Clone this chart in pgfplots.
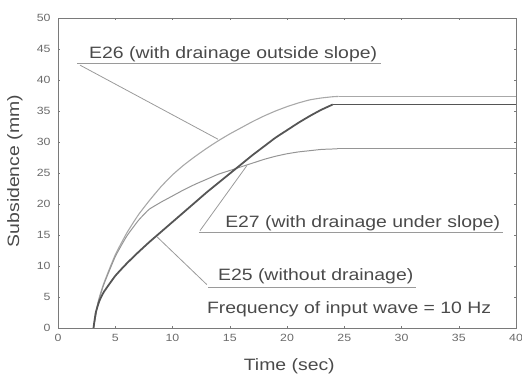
\documentclass[border=0pt]{standalone}
\usepackage{pgfplots}
\pgfplotsset{compat=1.18}
\usepackage{fontspec}
\setmainfont{Liberation Sans}[FakeStretch=1.18]
\definecolor{txt}{HTML}{4A4A4A}
\definecolor{ticklab}{HTML}{6A6A6A}
\definecolor{axisgray}{HTML}{7A7A7A}
\definecolor{cE26}{HTML}{A8A8A8}
\definecolor{cE27}{HTML}{959595}
\definecolor{cE25}{HTML}{555555}
\definecolor{leader}{HTML}{9A9A9A}
\begin{document}
\begin{tikzpicture}
\useasboundingbox (0,0) rectangle (522bp,381bp);
\begin{axis}[
  at={(58bp,53bp)}, anchor=south west,
  scale only axis, width=458bp, height=310bp,
  xmin=0, xmax=40, ymin=0, ymax=50,
  xtick={0,5,...,40}, ytick={0,5,...,50},
  tick align=inside, major tick length=2bp,
  axis line style={draw=axisgray, line width=0.6pt},
  tick style={draw=axisgray, line width=0.5pt},
  ticklabel style={font=\fontsize{10.5}{12}\selectfont, text=ticklab},
  /pgf/number format/assume math mode=true,
  xticklabel style={yshift=-3bp},
  yticklabel style={xshift=-4bp},
  clip=false,
]
% E26 (with drainage outside slope)
\addplot[cE26, line width=1.1pt, smooth, tension=0.3] coordinates {
(3.1,0)(3.5,4.2)(4,7.2)(5,11.8)(6,15.3)(7,18.2)(8,20.6)(9,22.8)(10,24.7)(11,26.3)
(12,27.7)(13,29)(14,30.2)(15,31.3)(16,32.3)(17,33.3)(18,34.2)(19,35)(20,35.7)
(21,36.3)(22,36.8)(23,37.1)(24,37.3)(24.5,37.35)};
\addplot[cE26, line width=1.0pt] coordinates {(24.5,37.35)(40,37.35)};
% E27 (with drainage under slope)
\addplot[cE27, line width=1.0pt, smooth, tension=0.3] coordinates {
(3.1,0)(3.5,4)(4,7)(5,11.5)(6,14.8)(7,17.3)(7.6,18.5)(8,19.2)(9,20.3)(10,21.3)
(11,22.3)(12,23.2)(13,24)(14,24.8)(15,25.4)(16,26)(17,26.6)(18,27.2)(19,27.7)
(20,28.1)(21,28.4)(22,28.6)(23,28.8)(24.4,28.9)};
\addplot[cE27, line width=0.9pt] coordinates {(24.4,28.9)(40,28.9)};
% E25 (without drainage)
\addplot[cE25, line width=1.8pt, smooth, tension=0.3] coordinates {
(3.1,0)(3.3,2.5)(3.6,4.3)(4,5.8)(5,8.4)(6,10.4)(7,12.2)(8,13.9)(9,15.5)(10,17.1)
(11,18.7)(12,20.3)(13,21.9)(14,23.4)(15,24.9)(16,26.4)(17,27.9)(18,29.3)(19,30.7)
(20,31.9)(21,33.1)(22,34.2)(23,35.2)(24,36.05)};
\addplot[cE25, line width=1.8pt] coordinates {(24,36.05)(40,36.05)};

% annotations
\begin{scope}[every node/.style={font=\fontsize{16.5}{18}\selectfont, text=txt, inner sep=0pt}]
\node[anchor=base west] at (axis cs:2.71,43.5) {E26 (with drainage outside slope)};
\draw[leader, line width=0.6pt] (axis cs:1.66,42.74) -- (axis cs:28.2,42.74);
\draw[leader, line width=0.8pt] (axis cs:1.92,42.4) -- (axis cs:13.97,30.45);

\node[anchor=base west] at (axis cs:14.59,16.24) {E27 (with drainage under slope)};
\draw[leader, line width=0.6pt] (axis cs:12.31,15.48) -- (axis cs:38.86,15.48);
\draw[leader, line width=0.8pt] (axis cs:12.4,15.7) -- (axis cs:16.5,26.2);

\node[anchor=base west] at (axis cs:13.97,7.63) {E25 (without drainage)};
\draw[leader, line width=0.6pt] (axis cs:13.1,6.61) -- (axis cs:31.27,6.61);
\draw[leader, line width=0.8pt] (axis cs:13.0,7.0) -- (axis cs:8.65,14.7);

\node[anchor=base west] at (axis cs:13.0,2.26) {Frequency of input wave = 10 Hz};

\node[anchor=base] at (axis cs:20.2,-6.8) {Time (sec)};
\node[anchor=center, rotate=90] at (axis cs:-3.76,25.3) {Subsidence (mm)};
\end{scope}
\end{axis}
\end{tikzpicture}
\end{document}
